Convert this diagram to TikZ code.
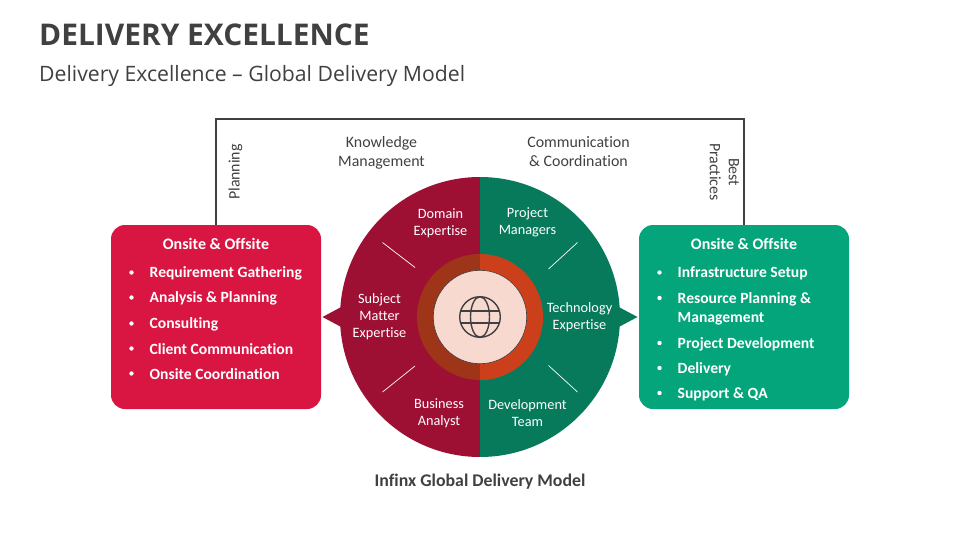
\documentclass[tikz,border=0pt]{standalone}
\usepackage{fontspec}
\setmainfont[Ligatures=NoCommon]{Carlito}
\newfontfamily\titlefont{Open Sans}
\usetikzlibrary{calc}
\definecolor{crim}{HTML}{D91542}
\definecolor{dred}{HTML}{9E0F34}
\definecolor{dgreen}{HTML}{067A5B}
\definecolor{lgreen}{HTML}{04A57A}
\definecolor{ringl}{HTML}{9E3418}
\definecolor{ringr}{HTML}{CB401B}
\definecolor{core}{HTML}{F8D9CF}
\definecolor{ink}{HTML}{404040}
\tikzset{
  panel/.style={rounded corners=14pt,minimum width=210pt,minimum height=184pt,inner sep=0pt},
  wedgelabel/.style={text=white,font=\fontsize{14.3}{17}\selectfont,align=center,inner sep=0pt},
  toplabel/.style={text=ink,font=\fontsize{15.9}{19}\selectfont,align=center,inner sep=0pt},
  paneltitle/.style={text=white,font=\fontsize{16}{18}\bfseries\selectfont,inner sep=0pt},
  item/.style={text=white,font=\fontsize{15.6}{18}\bfseries\selectfont,anchor=west,align=left,inner sep=0pt},
  dot/.style={circle,fill=white,inner sep=0pt,minimum size=4.4pt},
  tick/.style={white,line width=0.7pt},
  globe/.style={ink,line width=1.4pt}
}
\begin{document}
\begin{tikzpicture}[x=1pt,y=-1pt]
\useasboundingbox (0,0) rectangle (960,540);
\node[anchor=west,inner sep=0pt,font=\titlefont\fontsize{29.9}{36}\bfseries\selectfont,text=ink] (title) at (39,34.5) {DELIVERY EXCELLENCE};
\node[anchor=west,inner sep=0pt,font=\titlefont\fontsize{21.2}{24}\selectfont,text=ink] (subtitle) at (39,75.5) {Delivery Excellence – Global Delivery Model};

% panels
\node[panel,fill=crim] (lbox) at (216,317) {};
\node[panel,fill=lgreen] (rbox) at (744,317) {};
\coordinate (tl) at (216,119);
\coordinate (tr) at (744,119);
\draw[ink,line width=1.3pt] (lbox.north) -- (tl) -- (tr) -- (rbox.north);

% pointers
\fill[dred] (345,305) -- (322.5,317) -- (345,329) -- cycle;
\fill[dgreen] (615,305) -- (637.5,317) -- (615,329) -- cycle;

% big disc
\coordinate (c) at (480,317);
\fill[dred] (480,177) arc[start angle=-90,delta angle=-180,radius=140] -- cycle;
\fill[dgreen] (480,177) arc[start angle=-90,delta angle=180,radius=140] -- cycle;
\fill[ringl] (480,254) arc[start angle=-90,delta angle=-180,radius=63] -- cycle;
\fill[ringr] (480,254) arc[start angle=-90,delta angle=180,radius=63] -- cycle;
\draw[ink,line width=0.6pt,fill=core] (c) circle[radius=46.7];

% globe icon
\draw[globe] (c) circle[radius=20.3];
\draw[globe] (c) ellipse[x radius=9.5,y radius=20.3];
\draw[globe] (460.6,311) -- (499.4,311);
\draw[globe] (460.6,323) -- (499.4,323);

% ticks
\draw[tick] (382.5,242.5) -- (415,267.5);
\draw[tick] (577.5,242.5) -- (548.5,269);
\draw[tick] (382.5,392) -- (415,366);
\draw[tick] (577.5,392) -- (548.5,365.5);

% wedge labels
\node[wedgelabel] (w1) at (440.5,223) {Domain\\Expertise};
\node[wedgelabel] (w2) at (527.5,222.5) {Project\\Managers};
\node[wedgelabel] (w3) at (379.5,317) {Subject\\Matter\\Expertise};
\node[wedgelabel] (w4) at (579.5,317) {Technology\\Expertise};
\node[wedgelabel] (w5) at (439,413) {Business\\Analyst};
\node[wedgelabel] (w6) at (527.5,413) {Development\\Team};

% top labels
\node[toplabel] (k) at (381.5,153) {Knowledge\\Management};
\node[toplabel] (cc) at (578.5,151.5) {Communication\\\& Coordination};
\node[toplabel,rotate=90] (pl) at (235.5,172) {Planning};
\node[toplabel,rotate=-90] (bp) at (724.5,172) {Best\\Practices};

% left panel
\node[paneltitle] (lt) at (216,243.5) {Onsite \& Offsite};
\foreach \y/\t/\n in {273.5/Requirement Gathering/a,298.5/Analysis \& Planning/b,324.5/Consulting/c,349.5/Client Communication/d,374.5/Onsite Coordination/e}{
  \node[dot] (ld\n) at (131.5,\y-1) {};
  \node[item] (li\n) at (149.5,\y) {\t};
}
% right panel
\node[paneltitle] (rt) at (744,243.5) {Onsite \& Offsite};
\foreach \y/\t/\n in {273.5/Infrastructure Setup/a,344/Project Development/c,369/Delivery/d,394/Support \& QA/e}{
  \node[dot] (rd\n) at (659.5,\y-1) {};
  \node[item] (ri\n) at (677.5,\y) {\t};
}
\node[dot] (rdb) at (659.5,298) {};
\node[item,font=\fontsize{15.6}{19}\bfseries\selectfont] (rib) at (677.5,308.5) {Resource Planning \&\\Management};

\node[inner sep=0pt,font=\fontsize{17.8}{20}\bfseries\selectfont,text=ink] (cap) at (480,482) {Infinx Global Delivery Model};
\end{tikzpicture}
\end{document}
